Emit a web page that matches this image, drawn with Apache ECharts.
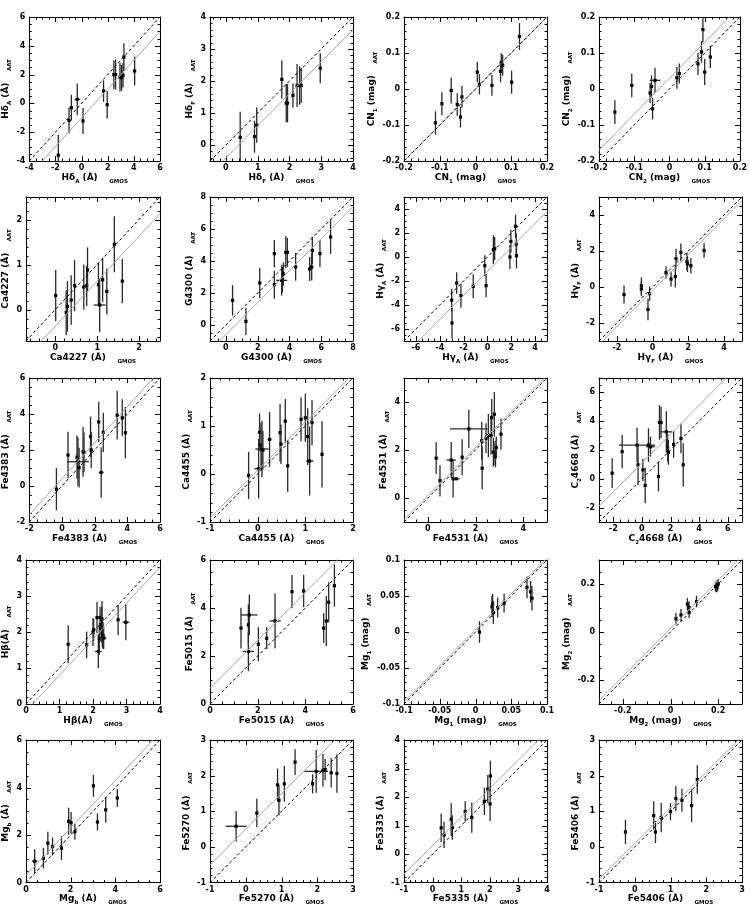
<!DOCTYPE html>
<html>
<head>
<meta charset="utf-8">
<script src="https://cdn.jsdelivr.net/npm/echarts@6/dist/echarts.min.js"></script>
<style>
  html, body { margin: 0; padding: 0; background: #fff; }
  #main { width: 750px; height: 907px; }
</style>
</head>
<body>
<div id="main"></div>
<script>
// each point: [GMOS value, AAT value, x error, y error]
var hdA = [[-1.78,-3.6,0,1.4],[-0.96,-1.18,0,0.9],[-0.78,-0.3,0,0.9],[-0.33,0.28,0.2,1.1],[0.11,-1.22,0,0.9],[1.68,0.86,0,0.75],[1.96,-0.09,0,0.95],[2.47,2.0,0,1.0],[2.6,2.0,0,1.05],[2.94,1.83,0,1.0],[3.06,1.78,0,0.9],[3.17,1.95,0,0.85],[3.24,3.22,0,0.95],[4.06,2.25,0,1.0]];
var hdF = [[0.45,0.24,0,0.8],[0.9,0.26,0,0.5],[0.97,0.62,0,0.55],[1.76,2.05,0,0.6],[1.9,1.31,0,0.6],[1.94,1.31,0,0.6],[2.11,1.55,0,0.38],[2.24,1.86,0,0.67],[2.32,1.86,0,0.6],[2.37,1.86,0,0.55],[2.97,2.4,0,0.47]];
var cn1 = [[-0.112,-0.094,0,0.032],[-0.094,-0.041,0,0.032],[-0.068,-0.004,0,0.036],[-0.051,-0.043,0,0.031],[-0.042,-0.078,0,0.029],[-0.038,-0.022,0,0.03],[0.005,0.047,0,0.028],[0.011,0.013,0,0.028],[0.046,0.01,0,0.029],[0.07,0.049,0,0.03],[0.072,0.072,0,0.027],[0.076,0.066,0,0.029],[0.101,0.019,0,0.032],[0.123,0.146,0,0.037]];
var cn2 = [[-0.155,-0.064,0,0.033],[-0.107,0.01,0,0.033],[-0.055,-0.011,0,0.028],[-0.051,0.007,0,0.031],[-0.041,0.024,0.015,0.035],[-0.048,-0.055,0,0.03],[0.021,0.031,0,0.03],[0.028,0.043,0,0.028],[0.081,0.07,0,0.031],[0.091,0.103,0,0.03],[0.095,0.165,0,0.036],[0.1,0.047,0,0.036],[0.116,0.089,0,0.031]];
var ca4227 = [[0.01,0.31,0,0.57],[0.26,-0.07,0,0.5],[0.29,0.07,0,0.56],[0.38,0.21,0,0.55],[0.46,0.53,0,0.57],[0.68,0.5,0,0.5],[0.75,0.53,0,0.45],[0.77,0.88,0,0.5],[1.03,0.55,0,0.48],[1.06,0.1,0.14,0.6],[1.13,0.66,0,0.49],[1.23,0.4,0,0.51],[1.41,1.45,0,0.62],[1.6,0.63,0,0.49]];
var g4300 = [[0.42,1.54,0,0.95],[1.26,0.23,0,0.85],[2.13,2.63,0,0.94],[3.05,4.46,0,0.85],[3.05,2.52,0,0.88],[3.51,2.79,0.35,0.95],[3.56,2.83,0,0.8],[3.62,3.19,0,0.73],[3.77,4.54,0,1.0],[3.87,4.54,0,0.9],[4.39,3.63,0,0.86],[5.27,3.5,0,0.75],[5.4,3.63,0,0.85],[5.44,4.65,0,0.86],[5.92,4.46,0,0.83],[6.59,5.5,0,1.05]];
var hgA = [[-3,-3.6,0,0.95],[-2.97,-5.5,0,1.3],[-2.58,-2.17,0,0.9],[-2.22,-3.22,0,1.0],[-1.19,-2.44,0,1.0],[-0.22,-0.72,0,0.87],[-0.11,-2.39,0,0.96],[0.5,0.61,0,1.2],[0.61,0.69,0,0.97],[1.89,0.0,0,1.0],[1.97,1.3,0,0.95],[2.36,2.56,0,0.97],[2.42,1.08,0,0.9],[2.44,0.11,0,1.05]];
var hgF = [[-1.6,-0.42,0,0.5],[-0.63,0.07,0,0.46],[-0.63,-0.11,0,0.4],[-0.26,-1.25,0,0.6],[-0.17,-0.37,0,0.4],[0.75,0.81,0,0.34],[1.03,0.44,0,0.42],[1.27,0.59,0,0.62],[1.31,1.57,0,0.55],[1.58,1.92,0,0.5],[1.92,1.42,0,0.5],[1.95,1.29,0,0.46],[2.14,1.18,0,0.43],[2.88,2.03,0,0.4]];
var fe4383 = [[-0.34,-0.18,0,1.17],[0.37,1.72,0,1.3],[0.92,1.6,0,1.2],[0.98,1.35,0.67,1.35],[1.05,1.02,0,1.1],[1.29,1.9,0,1.38],[1.35,1.87,0,1.1],[1.75,2.74,0,1.12],[1.79,2.0,0,1.0],[2.25,3.56,0,1.12],[2.4,0.75,0.15,1.4],[2.53,2.98,0,1.09],[3.38,3.93,0,1.35],[3.69,3.79,0,1.03],[3.88,2.96,0,1.43]];
var ca4455 = [[-0.19,-0.03,0,0.49],[0.02,0.11,0.09,0.62],[0.04,0.87,0,0.39],[0.07,0.6,0,0.47],[0.09,0.52,0.14,0.59],[0.11,0.5,0,0.4],[0.25,0.72,0.04,0.57],[0.47,0.86,0,0.6],[0.49,0.62,0,0.41],[0.58,1.1,0,0.46],[0.63,0.17,0,0.54],[0.91,1.14,0,0.46],[1.0,1.17,0,0.5],[1.05,0.78,0,0.59],[1.09,0.27,0.08,0.72],[1.14,1.07,0,0.47],[1.35,0.41,0,0.69]];
var fe4531 = [[0.35,1.66,0,0.66],[0.51,0.72,0,0.66],[0.98,1.58,0.2,0.75],[1.06,0.8,0,0.78],[1.19,0.8,0.15,0],[1.44,1.7,0,0.75],[1.72,2.88,0.79,0.8],[2.26,2.38,0,0.8],[2.28,1.24,0,0.88],[2.44,2.49,0,0.62],[2.54,2.6,0,0.9],[2.65,2.6,0,0.8],[2.68,3.35,0,0.78],[2.75,1.91,0,0.6],[2.79,3.49,0,0.93],[2.82,1.87,0,0.5],[2.84,1.73,0,0.45],[2.87,2.1,0,0.45],[3.07,2.66,0,0.65]];
var c24668 = [[-2.08,0.39,0,1.03],[-1.38,1.89,0,1.15],[-0.34,2.34,1.27,1.2],[-0.27,0.97,0,1.4],[0.07,0.62,0,0.78],[0.23,-0.46,0,1.23],[0.46,2.34,0,1.17],[0.6,2.23,0.3,0.69],[1.16,0.16,0,1.03],[1.23,3.91,0,1.2],[1.34,3.91,0,1.1],[1.71,3.26,0.4,1.43],[1.8,2.16,0,0.97],[1.85,1.84,0,0.86],[2.22,2.39,0,0.92],[2.73,2.8,0,1.03],[2.89,0.97,0,1.5]];
var hb = [[1.26,1.66,0,0.53],[1.81,1.64,0,0.37],[2.0,2.0,0,0.39],[2.02,2.06,0,0.3],[2.12,2.4,0,0.43],[2.16,1.46,0.1,0.47],[2.19,1.81,0,0.44],[2.21,2.4,0,0.3],[2.24,2.1,0,0.37],[2.26,2.2,0,0.5],[2.27,2.36,0,0.5],[2.28,1.97,0,0.4],[2.3,1.9,0,0.37],[2.32,1.83,0.08,0.3],[2.75,2.34,0,0.42],[2.98,2.27,0.1,0.5]];
var fe5015 = [[1.3,3.16,0,0.85],[1.61,3.3,0,0.85],[1.65,3.71,0.35,0.85],[1.61,2.19,0.24,0.82],[2.03,2.49,0,0.71],[2.38,2.74,0,0.46],[2.73,3.46,0.24,1.14],[3.44,4.68,0,0.69],[3.93,4.71,0,0.68],[4.77,3.16,0,0.62],[4.88,3.46,0,1.04],[4.98,4.24,0,0.83],[5.22,4.93,0,0.88]];
var mg1 = [[0.0056,0.0,0,0.015],[0.023,0.035,0,0.015],[0.024,0.039,0,0.014],[0.025,0.027,0,0.016],[0.031,0.034,0,0.014],[0.04,0.04,0,0.013],[0.072,0.062,0,0.015],[0.077,0.056,0,0.015],[0.079,0.047,0,0.017]];
var mg2 = [[0.023,0.055,0,0.024],[0.044,0.071,0,0.025],[0.071,0.116,0,0.026],[0.078,0.102,0,0.026],[0.078,0.082,0,0.024],[0.109,0.127,0,0.024],[0.189,0.189,0,0.021],[0.196,0.193,0,0.024],[0.2,0.199,0,0.022],[0.193,0.185,0,0.02]];
var mgb = [[0.39,0.9,0.12,0.5],[0.78,1.03,0,0.43],[0.98,1.66,0,0.48],[1.19,1.52,0,0.38],[1.59,1.45,0,0.5],[1.91,2.58,0,0.57],[2.02,2.52,0,0.45],[2.19,2.14,0,0.34],[3.02,4.07,0,0.46],[3.2,2.55,0,0.36],[3.57,3.06,0,0.53],[4.09,3.56,0,0.38]];
var fe5270 = [[-0.27,0.58,0.29,0.43],[0.31,0.95,0,0.4],[0.89,1.74,0,0.46],[0.93,1.31,0,0.42],[1.08,1.77,0,0.5],[1.38,2.38,0,0.36],[1.87,1.77,0,0.27],[1.97,2.12,0.33,0.6],[2.16,2.15,0,0.46],[2.22,2.17,0,0.3],[2.39,2.08,0,0.41],[2.55,2.06,0,0.54]];
var fe5335 = [[0.3,0.92,0,0.5],[0.4,0.67,0,0.46],[0.65,1.22,0,0.56],[0.69,0.93,0,0.43],[1.14,1.49,0,0.36],[1.37,1.28,0,0.53],[1.81,1.85,0,0.48],[1.93,2.28,0,0.49],[2.01,1.76,0,0.6],[2.02,2.74,0,0.54]];
var fe5406 = [[-0.26,0.42,0,0.34],[0.53,0.88,0,0.4],[0.58,0.42,0,0.31],[0.74,0.82,0,0.41],[1.0,0.99,0,0.24],[1.15,1.36,0,0.35],[1.32,1.31,0,0.32],[1.59,1.16,0,0.46],[1.75,1.89,0,0.4]];

var panelData = [hdA, hdF, cn1, cn2, ca4227, g4300, hgA, hgF, fe4383, ca4455, fe4531, c24668, hb, fe5015, mg1, mg2, mgb, fe5270, fe5335, fe5406];

// index names (rich text)
var indexNames = [
  '{b|Hδ}{s|A}{b| (Å)}', '{b|Hδ}{s|F}{b| (Å)}', '{b|CN}{s|1}{b| (mag)}', '{b|CN}{s|2}{b| (mag)}',
  '{b|Ca4227 (Å)}', '{b|G4300 (Å)}', '{b|Hγ}{s|A}{b| (Å)}', '{b|Hγ}{s|F}{b| (Å)}',
  '{b|Fe4383 (Å)}', '{b|Ca4455 (Å)}', '{b|Fe4531 (Å)}', '{b|C}{s|2}{b|4668 (Å)}',
  '{b|Hβ(Å)}', '{b|Fe5015 (Å)}', '{b|Mg}{s|1}{b| (mag)}', '{b|Mg}{s|2}{b| (mag)}',
  '{b|Mg}{s|b}{b| (Å)}', '{b|Fe5270 (Å)}', '{b|Fe5335 (Å)}', '{b|Fe5406 (Å)}'
];

// axis range (same on both axes): [min, max, label step, minor step]
var limits = [
  [-4, 6, 2, 0.5], [-0.5, 4, 1, 0.2], [-0.2, 0.2, 0.1, 0.02], [-0.2, 0.2, 0.1, 0.02],
  [-0.7, 2.5, 1, 0.2], [-1, 8, 2, 0.5], [-7, 5, 2, 0.5], [-3, 5, 2, 0.5],
  [-2, 6, 2, 0.5], [-1, 2, 1, 0.2], [-1, 5, 2, 0.5], [-3, 7, 2, 0.5],
  [0, 4, 1, 0.2], [0, 6, 2, 0.5], [-0.1, 0.1, 0.05, 0.01], [-0.3, 0.3, 0.2, 0.05],
  [0, 6, 2, 0.5], [-1, 3, 1, 0.2], [-1, 4, 1, 0.2], [-1, 3, 1, 0.2]
];

// mean offset AAT - GMOS (grey line)
var offsets = [-1.0, -0.4, 0, 0.03, -0.37, -0.6, -1.2, -0.2, 0.4, 0.08, 0.1, 1.1, -0.2, 0.65, 0.003, 0.015, 0.3, 0.5, 0.3, 0.1];

var colLeft = [17, 210, 404, 599];
var rowTop = [17, 197, 378, 560, 740];
var PW = 143, PH = 144;

function tickValues(lo, hi, step) {
  var out = [];
  var k = Math.ceil(lo / step - 1e-9);
  for (var v = k * step; v <= hi + 1e-9; v = (++k) * step) {
    out.push(Math.round(v * 1e6) / 1e6);
  }
  return out;
}

function fmt(v) {
  return String(Math.round(v * 1e6) / 1e6);
}

var richStyle = {
  b: { fontSize: 9, fontWeight: 'bold', fontFamily: 'DejaVu Sans', color: '#000', lineHeight: 14, verticalAlign: 'middle' },
  s: { fontSize: 5.5, fontWeight: 'bold', fontFamily: 'DejaVu Sans', color: '#000', lineHeight: 14, verticalAlign: 'bottom' }
};

function makeAxis(gi, pos, lim, labelled, name, nameGap) {
  var a = {
    type: 'value',
    gridIndex: gi,
    position: pos,
    min: lim[0],
    max: lim[1],
    splitLine: { show: false },
    axisLine: { show: true, onZero: false, lineStyle: { color: '#000', width: 1 } },
    axisTick: { show: false },
    axisLabel: {
      show: labelled,
      customValues: tickValues(lim[0], lim[1], lim[2]),
      formatter: fmt,
      fontSize: 8,
      fontWeight: 'bold',
      fontFamily: 'DejaVu Sans',
      color: '#000',
      margin: pos === 'bottom' ? 3 : 4
    }
  };
  if (labelled) {
    a.name = name;
    a.nameLocation = 'middle';
    a.nameGap = nameGap;
    a.nameTextStyle = { rich: richStyle };
    if (pos === 'left') a.nameRotate = 90;
  }
  return a;
}

function errRender(lim) {
  function cl(v) { return Math.max(lim[0], Math.min(lim[1], v)); }
  return function (params, api) {
    var x = api.value(0), y = api.value(1), ex = api.value(2), ey = api.value(3);
    var c = api.coord([x, y]);
    var kids = [];
    var st = { stroke: '#2a2a2a', lineWidth: 1.3 };
    if (ey > 0) {
      var p1 = api.coord([x, cl(y - ey)]), p2 = api.coord([x, cl(y + ey)]);
      kids.push({ type: 'line', shape: { x1: p1[0], y1: p1[1], x2: p2[0], y2: p2[1] }, style: st });
    }
    if (ex > 0) {
      var q1 = api.coord([cl(x - ex), y]), q2 = api.coord([cl(x + ex), y]);
      kids.push({ type: 'line', shape: { x1: q1[0], y1: q1[1], x2: q2[0], y2: q2[1] }, style: st });
    }
    kids.push({ type: 'rect', shape: { x: c[0] - 1.6, y: c[1] - 1.6, width: 3.2, height: 3.2 }, style: { fill: '#000' } });
    return { type: 'group', children: kids };
  };
}

// tick marks on all four sides, placed through the axes' own scales
function tickRender(lim) {
  return function (params, api) {
    var v = api.value(0), major = api.value(1), isY = api.value(2);
    var cs = params.coordSys;
    var L = major ? 5 : 2.5;
    var st = { stroke: '#000', lineWidth: 1 };
    var kids = [];
    if (!isY) {
      var px = Math.round(api.coord([v, lim[0]])[0]) + 0.5;
      kids.push({ type: 'line', shape: { x1: px, y1: cs.y + cs.height, x2: px, y2: cs.y + cs.height - L }, style: st });
      kids.push({ type: 'line', shape: { x1: px, y1: cs.y, x2: px, y2: cs.y + L }, style: st });
    } else {
      var py = Math.round(api.coord([lim[0], v])[1]) + 0.5;
      kids.push({ type: 'line', shape: { x1: cs.x, y1: py, x2: cs.x + L, y2: py }, style: st });
      kids.push({ type: 'line', shape: { x1: cs.x + cs.width, y1: py, x2: cs.x + cs.width - L, y2: py }, style: st });
    }
    return { type: 'group', children: kids };
  };
}

function tickData(lim) {
  var majors = tickValues(lim[0], lim[1], lim[2]);
  var minors = tickValues(lim[0], lim[1], lim[3]);
  var out = [];
  [0, 1].forEach(function (isY) {
    minors.forEach(function (v) {
      var isMajor = majors.some(function (m) { return Math.abs(m - v) < 1e-9; });
      if (v > lim[0] + 1e-9 && v < lim[1] - 1e-9) out.push([v, isMajor ? 1 : 0, isY]);
    });
    majors.forEach(function (m) {
      var onMinor = minors.some(function (v) { return Math.abs(m - v) < 1e-9; });
      if (!onMinor && m > lim[0] + 1e-9 && m < lim[1] - 1e-9) out.push([m, 1, isY]);
    });
  });
  return out;
}

var grids = [], xAxes = [], yAxes = [], series = [];

panelData.forEach(function (pts, i) {
  var r = Math.floor(i / 4), c = i % 4;
  var lim = limits[i];
  grids.push({ left: colLeft[c], top: rowTop[r], width: PW, height: PH });
  var xName = indexNames[i] + '{s|      GMOS}';
  var yName = indexNames[i] + '{s|      AAT}';
  var base = xAxes.length;
  xAxes.push(makeAxis(i, 'bottom', lim, true, xName, 6));
  xAxes.push(makeAxis(i, 'top', lim, false));
  yAxes.push(makeAxis(i, 'left', lim, true, yName, 4));
  yAxes.push(makeAxis(i, 'right', lim, false));

  series.push({
    type: 'custom', xAxisIndex: base, yAxisIndex: base, silent: true,
    renderItem: tickRender(lim),
    encode: { x: 0, y: 0 },
    data: tickData(lim)
  });
  series.push({
    type: 'line', xAxisIndex: base, yAxisIndex: base, silent: true,
    symbol: 'none', clip: true,
    data: [[lim[0], lim[0] + offsets[i]], [lim[1], lim[1] + offsets[i]]],
    lineStyle: { color: '#a8a8a8', width: 1 }
  });
  series.push({
    type: 'line', xAxisIndex: base, yAxisIndex: base, silent: true,
    symbol: 'none', clip: true,
    data: [[lim[0], lim[0]], [lim[1], lim[1]]],
    lineStyle: { color: '#000', width: 1, type: [3, 2.5] }
  });
  series.push({
    type: 'custom', xAxisIndex: base, yAxisIndex: base, silent: true,
    renderItem: errRender(lim),
    encode: { x: 0, y: 1 },
    data: pts
  });
});

var chart = echarts.init(document.getElementById('main'), null, { renderer: 'canvas' });
chart.setOption({
  animation: false,
  backgroundColor: '#fff',
  grid: grids,
  xAxis: xAxes,
  yAxis: yAxes,
  series: series
});
</script>
</body>
</html>
